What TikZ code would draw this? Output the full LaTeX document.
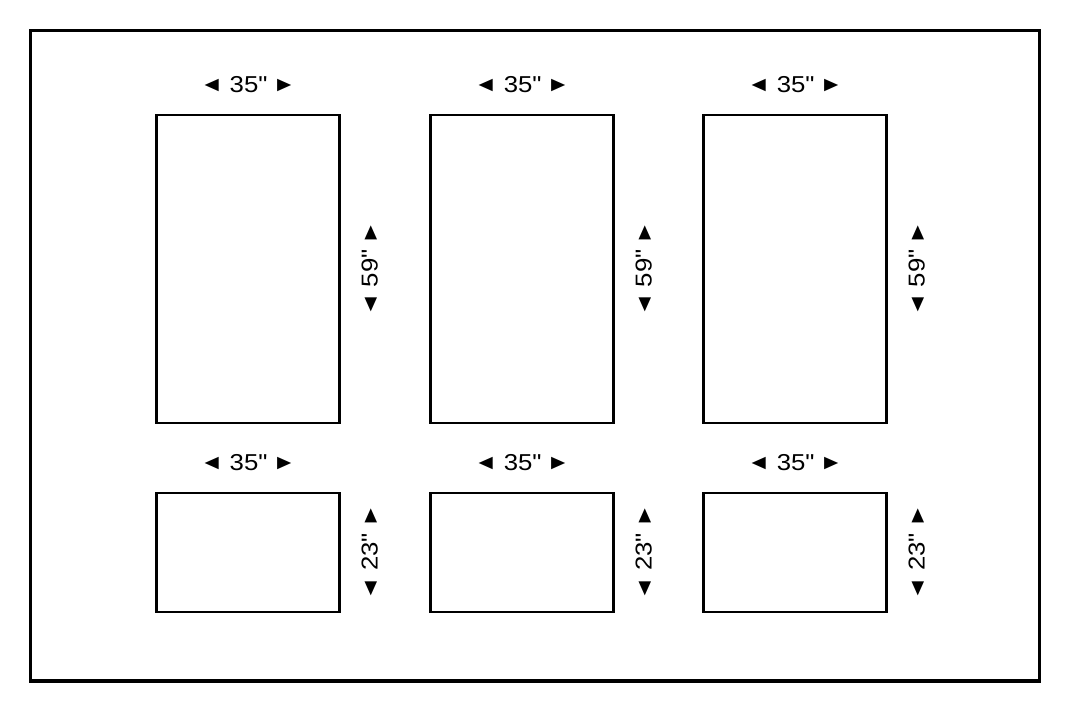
\documentclass[tikz,border=0pt]{standalone}
\usepackage{fontspec}
\setmainfont{Liberation Sans}[Ligatures=TeXOff]
\usepackage{tikz}
\usetikzlibrary{positioning}
\newcommand{\tri}[1]{\raisebox{0.4pt}{\fontsize{10.5}{12}\selectfont #1}}
\newcommand{\dimlabel}[1]{\scalebox{1.12}[1]{\tri{◄}\hspace{0.25em}#1"\hspace{0.2em}\tri{►}}}
\tikzset{
  frame/.style={draw=black, line width=1.6pt},
  panel/.style={draw=black, line width=1.3pt, rectangle, inner sep=0pt, minimum width=91.5pt},
  tall/.style={panel, minimum height=154pt},
  short/.style={panel, minimum height=59.5pt},
  dim/.style={text=black, font=\fontsize{11.5}{14}\selectfont, inner sep=0pt},
  dimv/.style={dim, rotate=90},
}
\begin{document}
\begin{tikzpicture}[x=0.5pt, y=-0.5pt]
  \useasboundingbox (0,0) rectangle (1070,721);
  \draw[frame] (30.5,30.5) rectangle (1039.5,681);
  % top row
  \node[tall] (t1) at (248,269) {};
  \node[tall] (t2) at (522,269) {};
  \node[tall] (t3) at (795,269) {};
  \node[dim] (tw1) at ([yshift=14.5pt]t1.north) {\dimlabel{35}};
  \node[dim] (tw2) at ([yshift=14.5pt]t2.north) {\dimlabel{35}};
  \node[dim] (tw3) at ([yshift=14.5pt]t3.north) {\dimlabel{35}};
  \node[dimv] (th1) at ([xshift=14.5pt]t1.east) {\dimlabel{59}};
  \node[dimv] (th2) at ([xshift=14.5pt]t2.east) {\dimlabel{59}};
  \node[dimv] (th3) at ([xshift=14.5pt]t3.east) {\dimlabel{59}};
  % bottom row
  \node[short] (b1) at (248,552.5) {};
  \node[short] (b2) at (522,552.5) {};
  \node[short] (b3) at (795,552.5) {};
  \node[dim] (bw1) at ([yshift=14.5pt]b1.north) {\dimlabel{35}};
  \node[dim] (bw2) at ([yshift=14.5pt]b2.north) {\dimlabel{35}};
  \node[dim] (bw3) at ([yshift=14.5pt]b3.north) {\dimlabel{35}};
  \node[dimv] (bh1) at ([xshift=14.5pt]b1.east) {\dimlabel{23}};
  \node[dimv] (bh2) at ([xshift=14.5pt]b2.east) {\dimlabel{23}};
  \node[dimv] (bh3) at ([xshift=14.5pt]b3.east) {\dimlabel{23}};
\end{tikzpicture}
\end{document}
